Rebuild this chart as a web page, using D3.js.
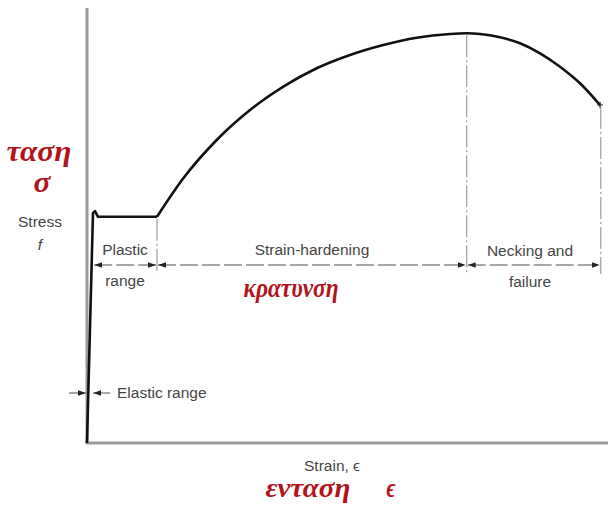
<!DOCTYPE html>
<html>
<head>
<meta charset="utf-8">
<script src="https://cdn.jsdelivr.net/npm/d3@7"></script>
<style>
  html, body { margin: 0; padding: 0; background: #fff; }
  svg { display: block; }
  .lbl { font-family: "Liberation Sans Narrow", "Liberation Sans", Arial, sans-serif; fill: #454545; font-size: 15.5px; }
  .gr { font-family: "Liberation Serif", "DejaVu Serif", serif; font-style: italic; font-weight: bold; fill: #b3141c; }
</style>
</head>
<body>
<script>
// Stress-strain curve of mild steel (arbitrary units, 0-100 on both axes)
const elasticStrain = [0, 1.15, 1.54, 2.12, 13.46];
const elasticStress = [0, 52.9, 53.3, 52.0, 52.0];
const hardeningStrain = [13.46, 18.52, 24.94, 31.35, 37.75, 44.17, 50.58, 56.98, 63.40, 69.81, 73.02,
                         75.58, 79.42, 83.27, 87.12, 90.96, 94.81, 98.65];
const hardeningStress = [52.0, 60.85, 69.66, 76.55, 81.91, 86.14, 89.20, 91.49, 93.17, 94.02, 94.18,
                         94.02, 93.26, 91.89, 89.59, 86.51, 82.69, 77.70];

// Region boundaries along the strain axis
const regionNames = [["Plastic", "range"], ["Strain-hardening"], ["Necking and", "failure"]];
const regionBounds = [[1.2, 13.46], [13.46, 73.02], [73.02, 98.8]];
const boundaryStrain = [13.46, 73.02, 98.8];
const boundaryStress = [52.0, 94.18, 77.7];

const W = 608, H = 506;
const x = d3.scaleLinear().domain([0, 100]).range([87, 607]);
const y = d3.scaleLinear().domain([0, 100]).range([443, 8]);

const svg = d3.select("body").append("svg").attr("width", W).attr("height", H);

const defs = svg.append("defs");
defs.append("marker").attr("id", "arr")
  .attr("viewBox", "0 0 10 10").attr("refX", 10).attr("refY", 5)
  .attr("markerWidth", 8).attr("markerHeight", 8)
  .attr("markerUnits", "userSpaceOnUse").attr("orient", "auto-start-reverse")
  .append("path").attr("d", "M0,1.5 L10,5 L0,8.5 Z").attr("fill", "#222");

// Axes
svg.append("line").attr("x1", x(0)).attr("x2", x(0)).attr("y1", y(100)).attr("y2", y(0))
  .attr("stroke", "#9a9a9a").attr("stroke-width", 3);
svg.append("line").attr("x1", x(0) - 1.5).attr("x2", W).attr("y1", y(0)).attr("y2", y(0))
  .attr("stroke", "#9a9a9a").attr("stroke-width", 3);

// Region boundary lines
const dimY = 265;
svg.selectAll("line.bd").data(boundaryStrain).join("line").attr("class", "bd")
  .attr("x1", d => x(d)).attr("x2", d => x(d))
  .attr("y1", (d, i) => y(boundaryStress[i]) + 2).attr("y2", 274)
  .attr("stroke", "#9c9c9c").attr("stroke-width", 1.2)
  .attr("stroke-dasharray", "22,3,2,3");

// Dimension arrows for each region
svg.selectAll("line.dim").data(regionBounds).join("line").attr("class", "dim")
  .attr("x1", d => x(d[0]) + 1).attr("x2", d => x(d[1]) - 1)
  .attr("y1", dimY).attr("y2", dimY)
  .attr("stroke", "#8a8a8a").attr("stroke-width", 1.3)
  .attr("stroke-dasharray", "18,4")
  .attr("marker-start", "url(#arr)").attr("marker-end", "url(#arr)");

// Region labels
const labelPos = [[125, 250], [312, 250], [530, 251]];
regionNames.forEach((lines, i) => {
  lines.forEach((t, j) => {
    svg.append("text").attr("class", "lbl")
      .attr("x", labelPos[i][0]).attr("y", labelPos[i][1] + j * 31 + 5)
      .attr("text-anchor", "middle").text(t);
  });
});

// Elastic range marker
const eY = 393;
svg.append("line").attr("x1", 69).attr("x2", x(0) - 1).attr("y1", eY).attr("y2", eY)
  .attr("stroke", "#777").attr("stroke-width", 1.3).attr("marker-end", "url(#arr)");
svg.append("line").attr("x1", 110).attr("x2", x(1.0) + 1).attr("y1", eY).attr("y2", eY)
  .attr("stroke", "#777").attr("stroke-width", 1.3).attr("marker-end", "url(#arr)");
svg.append("text").attr("class", "lbl").attr("x", 117).attr("y", eY + 5).text("Elastic range");

// The curve: linear elastic part and yield plateau, then smooth hardening/necking
const lineLin = d3.line().x(d => x(d[0])).y(d => y(d[1]));
const lineSmooth = d3.line().x(d => x(d[0])).y(d => y(d[1])).curve(d3.curveMonotoneX);
svg.append("path").attr("d", lineLin(elasticStrain.map((s, i) => [s, elasticStress[i]])))
  .attr("fill", "none").attr("stroke", "#111").attr("stroke-width", 2.6).attr("stroke-linejoin", "round");
svg.append("path").attr("d", lineSmooth(hardeningStrain.map((s, i) => [s, hardeningStress[i]])))
  .attr("fill", "none").attr("stroke", "#111").attr("stroke-width", 2.6);

// Fracture point
const fx = x(hardeningStrain[hardeningStrain.length - 1]), fy = y(hardeningStress[hardeningStress.length - 1]);
svg.append("path").attr("d", `M${fx - 3},${fy} H${fx + 3} M${fx},${fy - 3} V${fy + 3}`)
  .attr("stroke", "#222").attr("stroke-width", 1.2);

// Axis titles
function greek(t, cx, by, size, len) {
  svg.append("text").attr("class", "gr").attr("x", cx).attr("y", by).attr("text-anchor", "middle")
    .attr("font-size", size).attr("textLength", len).attr("lengthAdjust", "spacingAndGlyphs").text(t);
}
greek("ταση", 39, 161, 29, 65);
greek("σ", 42, 192, 29, 17);
svg.append("text").attr("class", "lbl").attr("x", 40).attr("y", 227).attr("text-anchor", "middle")
  .attr("font-size", 16).text("Stress");
svg.append("text").attr("class", "lbl").attr("x", 40).attr("y", 250).attr("text-anchor", "middle")
  .attr("font-style", "italic").attr("font-size", 15).text("f");

greek("κρατυνση", 291, 297, 27, 95);

svg.append("text").attr("class", "lbl").attr("x", 332).attr("y", 471).attr("text-anchor", "middle")
  .attr("font-size", 14).text("Strain, ϵ");
greek("ενταση", 308, 497, 27, 85);
greek("ϵ", 391, 497, 27, 9);
</script>
</body>
</html>
